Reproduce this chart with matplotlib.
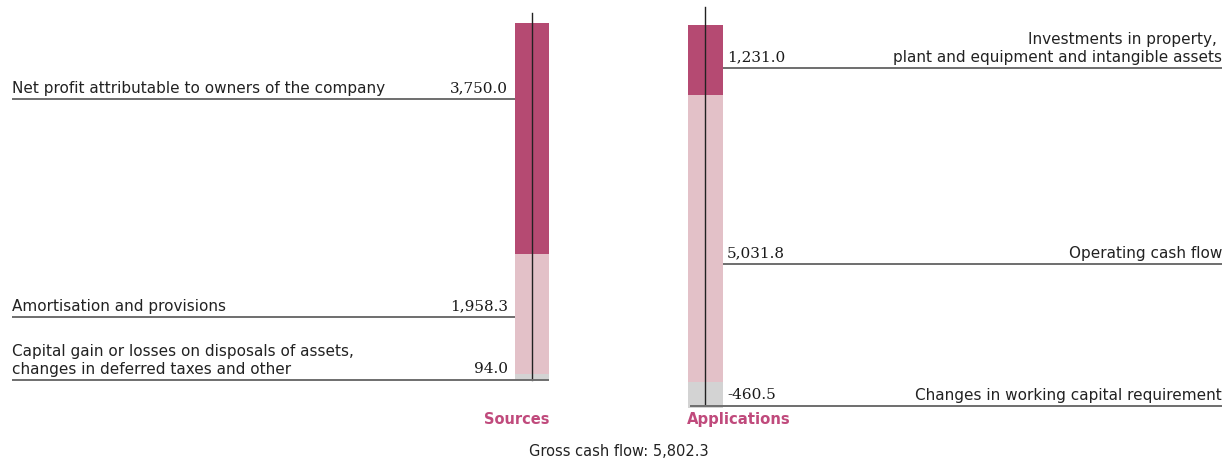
import matplotlib
matplotlib.use("Agg")
import matplotlib.pyplot as plt

W, H = 1230, 460
DARK = "#B54A72"
LIGHT = "#E3C1C8"
GREY = "#D3D3D3"
TITLE = "#C04A7C"
LINE = "#6E6E6E"

# Data
source_labels = ["Net profit attributable to owners of the company",
                 "Amortisation and provisions",
                 "Capital gain or losses on disposals of assets,\nchanges in deferred taxes and other"]
source_values = [3750.0, 1958.3, 94.0]
app_labels = ["Investments in property, \nplant and equipment and intangible assets",
              "Operating cash flow",
              "Changes in working capital requirement"]
app_values = [1231.0, 5031.8, -460.5]
gross_cash_flow = 5802.3
colors = [DARK, LIGHT, GREY]

# Layout (pixels)
src_bar = dict(x0=515, x1=549, top=24, bottom=381)
app_bar = dict(x0=688, x1=723, top=26, bottom=409)
src_label_lines = [100, 318, 381]
app_label_lines = [69, 265, 407]

label_font = ["DejaVu Sans"]
num_font = ["DejaVu Serif"]

fig = plt.figure(figsize=(W / 100, H / 100), dpi=100)


def bar_axes(b):
    return fig.add_axes([b["x0"] / W, (H - b["bottom"]) / H,
                         (b["x1"] - b["x0"]) / W, (b["bottom"] - b["top"]) / H])


def draw_stack(ax, values):
    vals = [abs(v) for v in values]
    total = sum(vals)
    bottom = 0
    for v, c in zip(reversed(vals), reversed(colors)):
        ax.bar(0, v, bottom=bottom, width=1.0, color=c, linewidth=0)
        bottom += v
    ax.set_xlim(-0.5, 0.5)
    ax.set_ylim(0, total)
    ax.axis("off")


ax_s = bar_axes(src_bar)
draw_stack(ax_s, source_values)
ax_a = bar_axes(app_bar)
draw_stack(ax_a, app_values)

# Overlay in pixel coordinates
ov = fig.add_axes([0, 0, 1, 1], zorder=5)
ov.set_xlim(0, W)
ov.set_ylim(H, 0)
ov.axis("off")
ov.patch.set_alpha(0)

# vertical axis lines
ov.plot([532, 532], [14, 381], color="#222222", lw=1.0)
ov.plot([705, 705], [8, 405], color="#222222", lw=1.0)

fs_label = 11
fs_num = 11

for i, (lab, val, y) in enumerate(zip(source_labels, source_values, src_label_lines)):
    x_end = src_bar["x1"] if i == len(source_values) - 1 else src_bar["x0"]
    ov.plot([12, x_end], [y, y], color=LINE, lw=1.4, solid_capstyle="butt")
    ov.text(12, y - 4, lab, ha="left", va="bottom", fontsize=fs_label,
            family=label_font, color="#222222", linespacing=1.25)
    ov.text(508, y - 5, f"{val:,.1f}", ha="right", va="bottom", fontsize=fs_num,
            family=num_font, color="#1a1a1a")

for i, (lab, val, y) in enumerate(zip(app_labels, app_values, app_label_lines)):
    x_start = app_bar["x0"] + 2 if i == len(app_values) - 1 else app_bar["x1"]
    ov.plot([x_start, 1222], [y, y], color=LINE, lw=1.4, solid_capstyle="butt")
    ov.text(1222, y - 4, lab, ha="right", va="bottom", fontsize=fs_label,
            family=label_font, color="#222222", linespacing=1.25, multialignment="right")
    ov.text(727, y - 5, f"{val:,.1f}", ha="left", va="bottom", fontsize=fs_num,
            family=num_font, color="#1a1a1a")

ov.text(517, 420, "Sources", ha="center", va="center", fontsize=10.5,
        fontweight="bold", family=label_font, color=TITLE)
ov.text(739, 420, "Applications", ha="center", va="center", fontsize=10.7,
        fontweight="bold", family=label_font, color=TITLE)
ov.text(619, 452, f"Gross cash flow: {gross_cash_flow:,.1f}", ha="center", va="center",
        fontsize=10.5, family=label_font, color="#222222")

fig.savefig("out.png", dpi=100)
